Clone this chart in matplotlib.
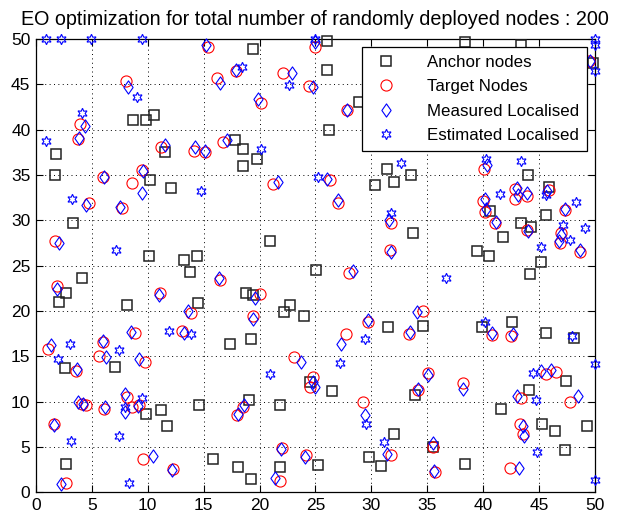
import matplotlib
matplotlib.use("Agg")
import matplotlib.pyplot as plt
from matplotlib.path import Path

plt.rcParams['font.family'] = ['Liberation Sans', 'DejaVu Sans']

title = "EO optimization for total number of randomly deployed nodes : 200"
legend_labels = ["Anchor nodes", "Target Nodes", "Measured Localised", "Estimated Localised"]
xticks = [0, 5, 10, 15, 20, 25, 30, 35, 40, 45, 50]
yticks = [0, 5, 10, 15, 20, 25, 30, 35, 40, 45, 50]

anchor_x = [8.7, 9.8, 10.6, 1.8, 1.7, 10.2, 12.1, 11.5, 19.4, 26.0, 26.0, 28.9, 26.2, 17.8, 18.5, 19.8,
            18.5, 31.4, 32.0, 30.3, 33.6, 38.4, 43.4, 49.8, 44.0, 45.9, 3.3, 10.1, 13.2, 14.4, 13.8,
            4.1, 2.7, 2.1, 8.1, 14.5, 17.4, 20.9, 25.1, 18.8, 19.4, 22.7, 22.2, 24.0, 31.5, 19.2,
            33.7, 40.6, 45.6, 43.4, 44.3, 41.8, 39.5, 40.5, 45.2, 44.2, 34.6, 39.9, 42.6, 45.6,
            48.1, 2.6, 7.1, 9.8, 11.2, 11.7, 14.6, 2.7, 15.8, 24.5, 26.5, 19.1, 21.8, 18.1, 19.2,
            21.8, 25.2, 29.8, 30.9, 32.0, 47.4, 44.1, 33.9, 41.6, 45.3, 46.4, 49.3, 47.3, 35.5, 38.4]
anchor_y = [41.1, 41.1, 41.6, 37.3, 35.0, 34.4, 33.6, 37.5, 48.9, 49.8, 46.6, 43.0, 40.0, 38.8, 37.8, 36.8,
            36.0, 35.6, 34.2, 33.9, 35.0, 49.7, 49.3, 47.3, 35.0, 33.7, 29.7, 26.1, 25.6, 26.1, 24.3,
            23.6, 22.0, 21.0, 20.7, 20.9, 16.4, 27.7, 24.5, 22.0, 21.8, 20.7, 19.9, 19.5, 18.2, 16.9,
            28.6, 31.0, 30.6, 29.7, 29.3, 28.2, 26.6, 26.1, 25.4, 24.1, 18.4, 18.2, 18.8, 17.6,
            17.0, 13.7, 13.8, 8.6, 9.1, 7.3, 9.6, 3.1, 3.7, 12.2, 11.2, 10.2, 9.6, 2.8, 1.5,
            2.8, 3.0, 3.9, 2.9, 6.4, 12.3, 11.3, 10.7, 9.2, 7.6, 6.8, 7.3, 4.7, 5.0, 3.1]

target_x = [15.4, 8.05, 16.2, 3.9, 3.8, 11.2, 14.1, 15.1, 16.7, 6.0, 9.5, 8.6, 4.7, 7.7, 1.7, 16.5,
            1.9, 11.1, 13.9, 8.9, 13.1, 6.0, 1.1, 5.6, 9.75, 3.6, 8.1, 4.1, 4.5, 6.1, 8.6, 9.2,
            1.6, 9.6, 12.3, 2.7, 25.0, 17.9, 22.1, 24.4, 20.1, 27.8, 21.2, 26.3, 49.5, 40.1,
            42.9, 42.9, 43.9, 45.9, 40.0, 40.2, 41.1, 47.3, 43.9, 47.0, 46.9, 48.7, 34.6, 33.4,
            40.85, 42.5, 35.1, 34.2, 38.2, 45.6, 46.5, 43.4, 47.8, 43.35, 43.6, 35.5, 42.4, 35.7,
            27.7, 23.1, 24.8, 24.5, 18.0, 18.5, 29.3, 22.0, 24.15, 31.75, 21.8, 27.0, 31.75, 31.7,
            28.0, 20.0, 19.4, 29.7]
target_y = [49.1, 45.4, 45.7, 40.6, 39.0, 38.1, 37.6, 37.5, 38.6, 34.8, 35.5, 34.1, 31.9, 31.4, 27.7, 23.4,
            22.8, 22.0, 19.8, 17.6, 17.8, 16.6, 15.8, 15.0, 14.4, 13.4, 10.5, 9.8, 9.6, 9.2, 9.4, 9.65,
            7.5, 3.7, 2.6, 1.0, 49.1, 46.4, 46.2, 44.8, 42.9, 42.2, 34.0, 34.4, 47.5, 35.6,
            33.5, 32.3, 32.7, 33.3, 32.1, 30.9, 29.7, 31.1, 28.9, 28.6, 27.5, 26.5, 20.0, 17.5,
            17.4, 17.2, 13.2, 11.3, 12.1, 13.1, 13.3, 10.4, 10.0, 7.5, 6.45, 5.05, 2.7, 2.3,
            17.5, 14.9, 12.7, 11.6, 8.5, 9.4, 10.0, 4.9, 4.1, 4.1, 1.3, 31.9, 29.7, 26.7,
            24.2, 21.85, 19.4, 18.8]

measured_x = [15.2, 8.26, 16.5, 4.4, 3.85, 11.5, 14.2, 15.15, 17.1, 6.05, 9.55, 9.45, 4.5, 7.5, 2.1, 16.4,
              1.9, 11.0, 13.6, 8.5, 13.2, 6.0, 1.3, 6.3, 9.2, 3.7, 8.0, 3.8, 4.2, 6.2, 8.0, 9.1,
              1.65, 10.5, 12.2, 2.2, 25.0, 17.9, 22.9, 24.8, 19.9, 27.8, 21.7, 26.0, 49.6, 40.4,
              43.0, 43.1, 43.9, 45.7, 40.2, 40.3, 41.15, 47.3, 44.0, 47.0, 46.8, 48.7, 34.1, 33.45,
              40.85, 42.65, 35.1, 34.2, 38.2, 45.2, 46.1, 43.0, 48.5, 43.6, 43.7, 35.5, 43.2, 35.6,
              27.3, 23.7, 24.8, 25.0, 18.1, 18.6, 29.4, 21.9, 24.1, 31.4, 21.4, 27.0, 31.6, 31.8,
              28.4, 19.6, 19.4, 29.75]
measured_y = [49.3, 44.7, 45.1, 40.4, 39.1, 38.3, 38.1, 37.6, 38.8, 34.8, 35.4, 33.0, 31.7, 31.5, 27.5, 23.6,
              22.4, 21.8, 20.0, 17.7, 17.6, 16.7, 16.2, 14.9, 14.7, 13.6, 10.8, 10.0, 9.7, 9.4, 8.9, 9.5,
              7.45, 4.0, 2.5, 0.9, 49.7, 46.6, 46.2, 44.7, 43.4, 42.2, 34.2, 34.5, 47.6, 36.1,
              33.6, 32.8, 33.0, 33.2, 32.3, 31.2, 29.8, 31.2, 28.8, 28.4, 27.7, 26.7, 19.9, 17.7,
              17.6, 17.5, 12.9, 11.4, 11.4, 13.4, 13.5, 10.6, 10.6, 7.3, 6.2, 5.4, 2.7, 2.4,
              16.4, 14.4, 12.2, 11.6, 8.6, 9.6, 8.5, 4.8, 3.9, 4.2, 1.55, 32.2, 30.0, 26.5,
              24.4, 21.4, 19.1, 19.0]

estimated_x = [0.9, 2.2, 4.9, 9.5, 25.0, 50.0, 50.0, 50.0, 9.0, 4.1, 0.9, 14.8, 3.2, 7.2, 11.9, 13.9,
               3.0, 7.45, 2.0, 8.0, 9.5, 3.1, 7.45, 8.3, 18.45, 22.6, 20.1, 25.2, 32.7, 40.25, 43.4,
               41.5, 45.6, 48.3, 47.2, 49.1, 47.8, 45.2, 36.7, 40.2, 48.0, 50.0, 44.5, 44.7, 44.8,
               50.0, 29.4, 27.2, 20.9, 29.5, 31.1, 31.75]
estimated_y = [50.0, 50.0, 50.0, 50.0, 50.0, 50.0, 49.3, 46.4, 43.6, 41.8, 38.7, 33.2, 32.3, 26.7, 17.8, 17.5,
               16.4, 15.7, 14.7, 9.4, 10.4, 5.7, 6.2, 1.0, 46.9, 44.9, 37.8, 34.8, 36.3, 36.7, 36.5,
               32.9, 32.8, 32.0, 29.5, 29.2, 27.8, 27.0, 23.6, 18.8, 17.2, 14.2, 13.2, 10.2, 4.5,
               1.4, 16.9, 14.3, 13.1, 7.5, 5.6, 30.8]

diamond = Path([(0, 1), (0.7, 0), (0, -1), (-0.7, 0), (0, 1)],
               [Path.MOVETO, Path.LINETO, Path.LINETO, Path.LINETO, Path.CLOSEPOLY])

fig = plt.figure(figsize=(6.25, 5.15), dpi=100)
ax = fig.add_axes([0.0576, 0.0437, 0.894, 0.881])

ax.plot(anchor_x, anchor_y, 's', ms=7.6, mfc='none', mec='#222222', mew=1.1,
        label=legend_labels[0], clip_on=False, zorder=3)
ax.plot(target_x, target_y, 'o', ms=8, mfc='none', mec='red', mew=0.8,
        label=legend_labels[1], clip_on=False, zorder=3)
ax.plot(measured_x, measured_y, marker=diamond, ls='none', ms=9.5, mfc='none', mec='blue', mew=0.8,
        label=legend_labels[2], clip_on=False, zorder=3)
ax.plot(estimated_x, estimated_y, marker=(6, 1, 0), ls='none', ms=7.5, mfc='none', mec='blue', mew=0.8,
        label=legend_labels[3], clip_on=False, zorder=3)

ax.set_xlim(0, 50)
ax.set_ylim(0, 50)
ax.set_xticks(xticks)
ax.set_yticks(yticks)
ax.tick_params(direction='in', top=True, right=True, length=5, labelsize=12.5, width=0.8, pad=4)
ax.grid(True, color='black', linestyle=(0, (1, 3.5)), linewidth=0.7)
ax.set_axisbelow(True)
for s in ax.spines.values():
    s.set_linewidth(0.9)

ax.set_title(title, fontsize=14.2, pad=10)

leg = ax.legend(loc='upper right', bbox_to_anchor=(0.986, 0.981), frameon=True, fancybox=False,
                edgecolor='black', framealpha=1, fontsize=12.2, borderpad=0.45, labelspacing=0.55,
                handletextpad=1.5, handlelength=1.9, borderaxespad=0)
leg.get_frame().set_linewidth(0.9)
leg.set_zorder(5)

fig.savefig("out.png", dpi=100)
